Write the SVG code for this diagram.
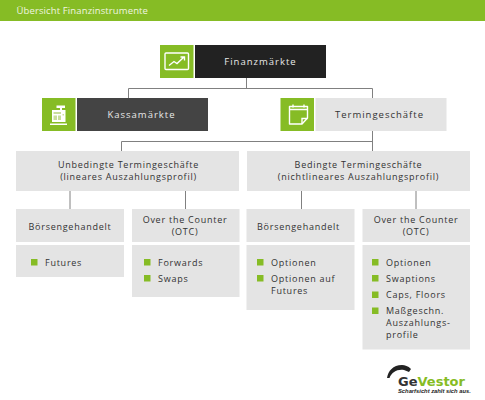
<svg xmlns="http://www.w3.org/2000/svg" width="485" height="400" viewBox="0 0 485 400">
<style>
text{font-family:"Open Sans","Liberation Sans",sans-serif;font-size:9px;letter-spacing:.75px;fill:#333}
.c{text-anchor:middle}
.g{fill:#86bc25}
.b{fill:#e4e4e4}
.w{fill:none;stroke:#fff;stroke-width:1.400}
.l{fill:none;stroke:#808080;stroke-width:1}
.m{font-size:9.500px;letter-spacing:1px}
</style>
<rect width="485" height="400" fill="#fff"/>
<g id="header"><rect class="g" width="485" height="21"/><text x="16.500" y="14" style="font-size:9.500px;letter-spacing:.12px;fill:#f0f5e0">Übersicht Finanzinstrumente</text></g>
<g id="connectors">
<path class="l" d="M246.500 78V88.500M128.500 98V88.500H372.500V98M372.500 131V152M121.500 151V141.500H372.500M70 191V209M185.500 191V209M301.500 191V209M416 191V209"/>
</g>
<g id="finanzmaerkte">
<rect class="g" x="160" y="45" width="33.500" height="33"/><rect x="195" y="45" width="131" height="33" fill="#222"/>
<rect class="w" x="165" y="53" width="23.500" height="16.500" rx="1"/><path class="w" d="M169 65.500L174 61.500L177 63.500L184 57M180.500 57H184.500V60.500"/>
<text class="c m" x="260.500" y="65" style="fill:#e8e8e8">Finanzmärkte</text>
</g>
<g id="kassamaerkte">
<rect class="g" x="42" y="98" width="33.500" height="33"/><rect x="77" y="98" width="131" height="33" fill="#444"/>
<path fill="#fff" d="M52 110H65.500V122H52ZM50 123.500H67V125H50ZM56.500 105.500H65V108H62V110H60V108H56.500Z"/>
<path fill="#c9de9c" d="M53.500 112H61V114H53.500ZM53.500 115.500H57V120H53.500ZM58 115.500H61V120H58ZM62.500 114H64V115.500H62.500Z"/>
<text class="c m" x="141.500" y="118" style="fill:#e8e8e8">Kassamärkte</text>
</g>
<g id="termingeschaefte">
<rect class="g" x="280.500" y="98" width="33.500" height="33"/><rect class="b" x="315.500" y="98" width="131" height="33"/>
<path class="w" stroke-linejoin="round" d="M289.500 106.500H307.500V118L302 124H289.500Z"/><path class="w" d="M289.500 109.500H307.500M293 104.500V107.500M304 104.500V107.500M302 124V118.500H307.500"/>
<text class="c m" x="379.500" y="118">Termingeschäfte</text>
</g>
<g id="unbedingte">
<rect class="b" x="16" y="151" width="223" height="40"/>
<text class="c" x="128.500" y="168">Unbedingte Termingeschäfte</text><text class="c" x="128.500" y="180">(lineares Auszahlungsprofil)</text>
</g>
<g id="bedingte">
<rect class="b" x="247" y="151" width="223" height="40"/>
<text class="c" x="358.500" y="168">Bedingte Termingeschäfte</text><text class="c" x="358.500" y="180">(nichtlineares Auszahlungsprofil)</text>
</g>
<g id="boerse1">
<rect class="b" x="16" y="209" width="108" height="33"/><text class="c" x="70" y="230">Börsengehandelt</text>
</g>
<g id="otc1">
<rect class="b" x="132" y="209" width="107.500" height="33"/><text class="c" x="185" y="223">Over the Counter</text><text class="c" x="185" y="235">(OTC)</text>
</g>
<g id="boerse2">
<rect class="b" x="246.500" y="209" width="108" height="33"/><text class="c" x="298.500" y="230">Börsengehandelt</text>
</g>
<g id="otc2">
<rect class="b" x="362.500" y="209" width="107.500" height="33"/><text class="c" x="416" y="223">Over the Counter</text><text class="c" x="416" y="235">(OTC)</text>
</g>
<g id="liste1">
<rect class="b" x="16" y="245" width="108" height="32"/>
<rect class="g" x="31" y="259" width="6.500" height="6.500"/><text x="45" y="265.500">Futures</text>
</g>
<g id="liste2">
<rect class="b" x="132" y="245" width="107.500" height="52"/>
<rect class="g" x="144" y="259" width="6.500" height="6.500"/><text x="158" y="265.500">Forwards</text>
<rect class="g" x="144" y="275" width="6.500" height="6.500"/><text x="158" y="281.500">Swaps</text>
</g>
<g id="liste3">
<rect class="b" x="246.500" y="245" width="108" height="65"/>
<rect class="g" x="257" y="259" width="6.500" height="6.500"/><text x="271" y="265.500">Optionen</text>
<rect class="g" x="257" y="275" width="6.500" height="6.500"/><text x="271" y="281.500">Optionen auf</text><text x="271" y="293.500">Futures</text>
</g>
<g id="liste4">
<rect class="b" x="362.500" y="245" width="107.500" height="104.500"/>
<rect class="g" x="372" y="259" width="6.500" height="6.500"/><text x="386" y="265.500">Optionen</text>
<rect class="g" x="372" y="275" width="6.500" height="6.500"/><text x="386" y="281.500">Swaptions</text>
<rect class="g" x="372" y="291.500" width="6.500" height="6.500"/><text x="386" y="298">Caps, Floors</text>
<rect class="g" x="372" y="307.500" width="6.500" height="6.500"/><text x="386" y="314">Maßgeschn.</text><text x="386" y="326">Auszahlungs-</text><text x="386" y="337.500">profile</text>
</g>
<g id="logo">
<path fill="#222" d="M387 378C388 371 393 365 402 365C405 365 408 366 411 369L409 372L404 370C397 369 392 372 389.500 378Z"/>
<text x="398" y="386" style="font-family:'DejaVu Sans',sans-serif;font-weight:bold;font-size:13px;letter-spacing:0;fill:#333">Ge<tspan fill="#86bc25">Vestor</tspan></text>
<text x="398" y="392.500" style="font-family:'Liberation Sans',sans-serif;font-weight:bold;font-style:italic;font-size:5.800px;letter-spacing:0;fill:#222">Scharfsicht zahlt sich aus.</text>
</g>
</svg>
